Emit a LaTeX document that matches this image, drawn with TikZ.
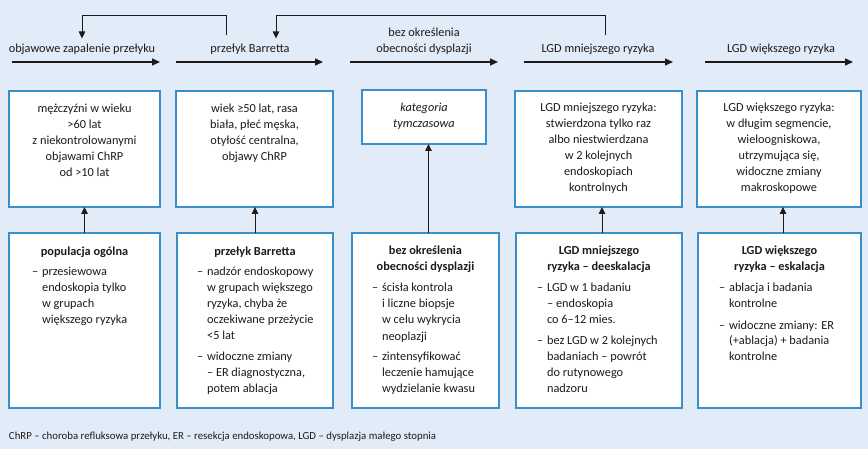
\documentclass[tikz,border=0pt]{standalone}
\usepackage{fontspec}
\setmainfont{Carlito}
\usetikzlibrary{arrows.meta}
\definecolor{bgblue}{HTML}{E2ECF8}
\definecolor{boxblue}{HTML}{3A8FCB}
\definecolor{ink}{HTML}{1E1A1B}
\newcommand{\ctab}[1]{\begin{tabular}[t]{@{}c@{}}#1\end{tabular}}
\newcommand{\ltab}[1]{\begin{tabular}[t]{@{}l@{\hspace{4pt}}l@{}}#1\end{tabular}}
\begin{document}
\begin{tikzpicture}[x=1pt,y=-1pt,
  every node/.style={font=\fontsize{12.3}{16}\selectfont, text=ink, inner sep=0pt, outer sep=0pt},
  box/.style={draw=boxblue, line width=1.1pt, fill=white, anchor=north west},
  txt/.style={anchor=base},
  ttl/.style={anchor=base, font=\fontsize{12.3}{16}\selectfont\bfseries},
  lst/.style={anchor=base west},
  mainarr/.style={draw=ink, line width=1.5pt, -{Triangle[length=8pt,width=7pt]}},
  fb/.style={draw=ink, line width=0.9pt, -{Triangle[length=7pt,width=6.5pt]}},
  va/.style={draw=ink, line width=0.9pt, -{Triangle[length=7pt,width=6.5pt]}}]
\fill[bgblue] (0,0) rectangle (868,449);
\useasboundingbox (0,0) rectangle (868,449);

% headings
\node[txt] (h1) at (82,53) {objawowe zapalenie przełyku};
\node[txt] (h2) at (250,53) {przełyk Barretta};
\node[txt] (h3) at (424,37) {\ctab{bez określenia\\obecności dysplazji}};
\node[txt] (h4) at (598,53) {LGD mniejszego ryzyka};
\node[txt] (h5) at (781,53) {LGD większego ryzyka};

% main arrows
\coordinate (a1s) at (12,62);  \coordinate (a1e) at (160,62);
\coordinate (a2s) at (176,62); \coordinate (a2e) at (323,62);
\coordinate (a3s) at (350,62); \coordinate (a3e) at (498,62);
\coordinate (a4s) at (524,62); \coordinate (a4e) at (673,62);
\coordinate (a5s) at (705,62); \coordinate (a5e) at (853,62);
\draw[mainarr] (a1s) -- (a1e);
\draw[mainarr] (a2s) -- (a2e);
\draw[mainarr] (a3s) -- (a3e);
\draw[mainarr] (a4s) -- (a4e);
\draw[mainarr] (a5s) -- (a5e);

% feedback arrows
\draw[fb] ([xshift=-24pt,yshift=9pt]h2.north) -- ++(0,-20) -| ([yshift=6pt]h1.north);
\draw[fb] ([xshift=7pt,yshift=9pt]h4.north) -- ++(0,-20) -| ([xshift=26pt,yshift=6pt]h2.north);

% upper boxes
\node[box, minimum width=151pt, minimum height=116pt] (u1) at (9,91) {};
\node[box, minimum width=157pt, minimum height=116pt] (u2) at (176,91) {};
\node[box, minimum width=124pt, minimum height=54pt] (u3) at (362,90) {};
\node[box, minimum width=167pt, minimum height=116pt] (u4) at (515,91) {};
\node[box, minimum width=164pt, minimum height=116pt] (u5) at (697,91) {};

\node[txt] (tu1) at (84.5,113) {\ctab{mężczyźni w wieku\\>60 lat\\z niekontrolowanymi\\objawami ChRP\\od >10 lat}};
\node[txt] (tu2) at (254.5,113) {\ctab{wiek ≥50 lat, rasa\\biała, płeć męska,\\otyłość centralna,\\objawy ChRP}};
\node[txt, font=\fontsize{12.3}{16}\selectfont\itshape] (tu3) at (424,112) {\ctab{kategoria\\tymczasowa}};
\node[txt] (tu4) at (598.5,112) {\ctab{LGD mniejszego ryzyka:\\stwierdzona tylko raz\\albo niestwierdzana\\w 2 kolejnych\\endoskopiach\\kontrolnych}};
\node[txt] (tu5) at (779,112) {\ctab{LGD większego ryzyka:\\w długim segmencie,\\wieloogniskowa,\\utrzymująca się,\\widoczne zmiany\\makroskopowe}};

% lower boxes
\node[box, minimum width=151pt, minimum height=175pt] (l1) at (9,233) {};
\node[box, minimum width=156pt, minimum height=175pt] (l2) at (177,233) {};
\node[box, minimum width=147pt, minimum height=175pt] (l3) at (352,233) {};
\node[box, minimum width=166pt, minimum height=175pt] (l4) at (516,233) {};
\node[box, minimum width=163pt, minimum height=175pt] (l5) at (698,233) {};

\node[ttl] (tl1) at (84.5,256) {populacja ogólna};
\node[ttl] (tl2) at (255,256) {przełyk Barretta};
\node[ttl] (tl3) at (425.5,255) {\ctab{bez określenia\\obecności dysplazji}};
\node[ttl] (tl4) at (599,255) {\ctab{LGD mniejszego\\ryzyka – deeskalacja}};
\node[ttl] (tl5) at (779.5,255) {\ctab{LGD większego\\ryzyka – eskalacja}};

\node[lst] (ll1) at (32,276) {\ltab{– & przesiewowa\\ & endoskopia tylko\\ & w grupach\\ & większego ryzyka}};
\node[lst] (ll2) at (197,276) {\ltab{– & nadzór endoskopowy\\ & w grupach większego\\ & ryzyka, chyba że\\ & oczekiwane przeżycie\\ & <5 lat\\[5pt] – & widoczne zmiany\\ & – ER diagnostyczna,\\ & potem ablacja}};
\node[lst] (ll3) at (372,292) {\ltab{– & ścisła kontrola\\ & i liczne biopsje\\ & w celu wykrycia\\ & neoplazji\\[5pt] – & zintensyfikować\\ & leczenie hamujące\\ & wydzielanie kwasu}};
\node[lst] (ll4) at (537,292) {\ltab{– & LGD w 1 badaniu\\ & – endoskopia\\ & co 6–12 mies.\\[5pt] – & bez LGD w 2 kolejnych\\ & badaniach – powrót\\ & do rutynowego\\ & nadzoru}};
\node[lst] (ll5) at (719,292) {\ltab{– & ablacja i badania\\ & kontrolne\\[5pt] – & widoczne zmiany: ER\\ & (+ablacja) + badania\\ & kontrolne}};

% vertical arrows
\draw[va] (l1.north) -- (l1.north |- u1.south);
\draw[va] (l2.north) -- (l2.north |- u2.south);
\draw[va] ([xshift=3pt]l3.north) -- ([xshift=3pt]l3.north |- u3.south);
\draw[va] ([xshift=3pt]l4.north) -- ([xshift=3pt]l4.north |- u4.south);
\draw[va] ([xshift=3.5pt]l5.north) -- ([xshift=3.5pt]l5.north |- u5.south);

% footnote
\node[lst, font=\fontsize{10.8}{13}\selectfont] (fn) at (9,439) {ChRP – choroba refluksowa przełyku, ER – resekcja endoskopowa, LGD – dysplazja małego stopnia};
\end{tikzpicture}
\end{document}
